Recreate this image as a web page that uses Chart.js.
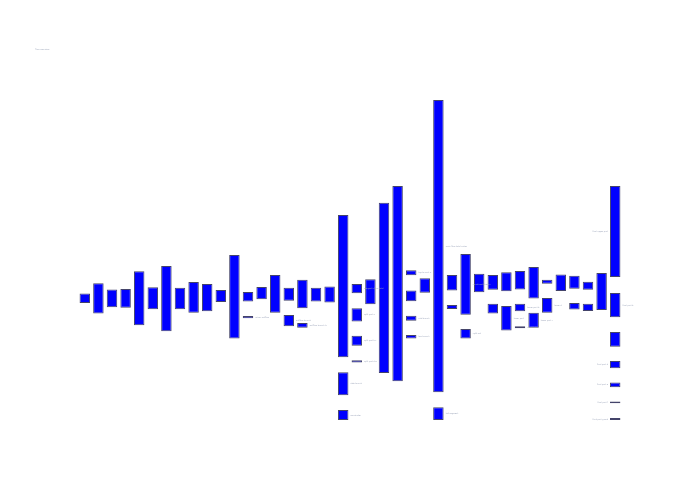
<!DOCTYPE html>
<html>
<head>
<meta charset="utf-8">
<script src="https://cdn.jsdelivr.net/npm/chart.js@4.4.1/dist/chart.umd.min.js"></script>
<style>
    html, body { margin: 0; padding: 0; background: #fff; }
    #chart { display: block; }
</style>
</head>
<body>
<canvas id="chart" width="700" height="500"></canvas>
<script>
// Title (too small to read in the reference)
const chartTitle = 'Flow overview';

// 40 steps along the x axis
const steps = Array.from({ length: 40 }, (_, i) => 'Step ' + (i + 1));

// Floating segments per step, [low, high]; one array per layer, top segment first
const segment1 = [
    [36.6, 39.5], [33.3, 42.7], [35.2, 40.8], [35.1, 40.9], [29.6, 46.5],
    [34.6, 41.5], [27.7, 48.1], [34.6, 41.3], [33.5, 43.1], [34.0, 42.5],
    [36.9, 40.6], [25.5, 51.6], [37.0, 40.0], [37.7, 41.6], [33.5, 45.3],
    [37.3, 41.3], [34.9, 43.8], [37.0, 41.3], [36.7, 41.7], [19.6, 64.1],
    [39.6, 42.5], [36.2, 44.0], [14.7, 67.9], [12.1, 73.1], [45.2, 46.8],
    [39.8, 44.3], [8.7, 100], [40.5, 45.3], [32.9, 51.9], [39.9, 45.7],
    [40.7, 45.3], [40.2, 46.2], [40.8, 46.6], [38.0, 47.8], [42.6, 43.8],
    [40.3, 45.5], [41.0, 45.1], [40.7, 43.2], [34.4, 45.9], [44.7, 73.1]
];
const segment2 = [
    null, null, null, null, null, null, null, null, null, null,
    null, null, [31.8, 32.5], null, null, [29.3, 32.8], [28.8, 30.3], null, null, [7.7, 14.9],
    [30.8, 34.9], null, null, null, [37.1, 40.5], null, [0, 4.0], [34.7, 35.9], [25.5, 28.4], null,
    [33.3, 36.3], [28.0, 35.6], [34.0, 36.3], [28.8, 33.5], [33.5, 38.1], null, [34.5, 36.6], [34.1, 36.3], null, [32.1, 39.7]
];
const segment3 = [
    null, null, null, null, null, null, null, null, null, null,
    null, null, null, null, null, null, null, null, null, [0, 3.1],
    [23.2, 26.3], null, null, null, [31.0, 32.6], null, null, null, null, null,
    null, null, [28.7, 29.3], null, null, null, null, null, null, [22.9, 27.5]
];
const segment4 = [
    null, null, null, null, null, null, null, null, null, null,
    null, null, null, null, null, null, null, null, null, null,
    [18.0, 18.7], null, null, null, [25.5, 26.6], null, null, null, null, null,
    null, null, null, null, null, null, null, null, null, [16.2, 18.4]
];
const segment5 = Array(39).fill(null).concat([[10.2, 11.7]]);
const segment6 = Array(39).fill(null).concat([[5.2, 5.8]]);
const segment7 = Array(39).fill(null).concat([[0, 0.6]]);

const layers = [segment1, segment2, segment3, segment4, segment5, segment6, segment7];

// Small notes next to segments: [step index, layer index, text, side]
const notes = [
    [12, 1, 'minor outflow', 'right'],
    [15, 1, 'outflow branch', 'right'],
    [16, 1, 'outflow branch b', 'right'],
    [19, 1, 'side branch', 'right'],
    [19, 2, 'remainder', 'right'],
    [20, 0, 'merged inflow total', 'right'],
    [20, 1, 'split part a', 'right'],
    [20, 2, 'split part b c', 'right'],
    [20, 3, 'split part d e', 'right'],
    [24, 0, 'top branch a', 'right'],
    [24, 2, 'mid branch', 'right'],
    [24, 3, 'low branch', 'right'],
    [26, 0, 'main flow total value', 'right'],
    [26, 1, 'tail segment', 'right'],
    [28, 0, 'combined stream', 'right'],
    [28, 1, 'split out', 'right'],
    [31, 1, 'lower part', 'right'],
    [32, 1, 'lower part b', 'right'],
    [32, 2, 'small tail', 'right'],
    [33, 1, 'lower part c', 'right'],
    [34, 1, 'lower d', 'right'],
    [39, 0, 'final upper part', 'left'],
    [39, 1, 'final part b', 'right'],
    [39, 3, 'final part d', 'left'],
    [39, 4, 'final part e', 'left'],
    [39, 5, 'final part f', 'left'],
    [39, 6, 'final part g end', 'left']
];

const tinyText = {
    id: 'tinyText',
    afterDatasetsDraw(chart) {
        const ctx = chart.ctx;
        ctx.save();
        ctx.font = '2px "DejaVu Sans"';
        ctx.fillStyle = '#9aa3b8';
        ctx.textBaseline = 'middle';
        ctx.textAlign = 'left';
        ctx.fillText(chartTitle, 35, 49);
        notes.forEach(([col, layer, text, side]) => {
            const bar = chart.getDatasetMeta(layer).data[col];
            if (!bar) return;
            const y = (bar.y + bar.base) / 2;
            if (side === 'left') {
                ctx.textAlign = 'right';
                ctx.fillText(text, bar.x - bar.width / 2 - 2, y);
            } else {
                ctx.textAlign = 'left';
                ctx.fillText(text, bar.x + bar.width / 2 + 2, y);
            }
        });
        ctx.restore();
    }
};

new Chart(document.getElementById('chart'), {
    type: 'bar',
    data: {
        labels: steps,
        datasets: layers.map((values, i) => ({
            label: 'Layer ' + (i + 1),
            data: values,
            backgroundColor: '#0000ff',
            borderColor: '#44446a',
            borderWidth: 1,
            borderSkipped: false,
            grouped: false,
            barPercentage: 0.77,
            categoryPercentage: 1
        }))
    },
    options: {
        responsive: false,
        animation: false,
        devicePixelRatio: 1,
        layout: { padding: { left: 78, right: 78, top: 100, bottom: 80 } },
        plugins: {
            legend: { display: false },
            title: { display: false },
            tooltip: { enabled: false }
        },
        scales: {
            x: { display: false },
            y: { display: false, min: 0, max: 100 }
        }
    },
    plugins: [tinyText]
});
</script>
</body>
</html>
